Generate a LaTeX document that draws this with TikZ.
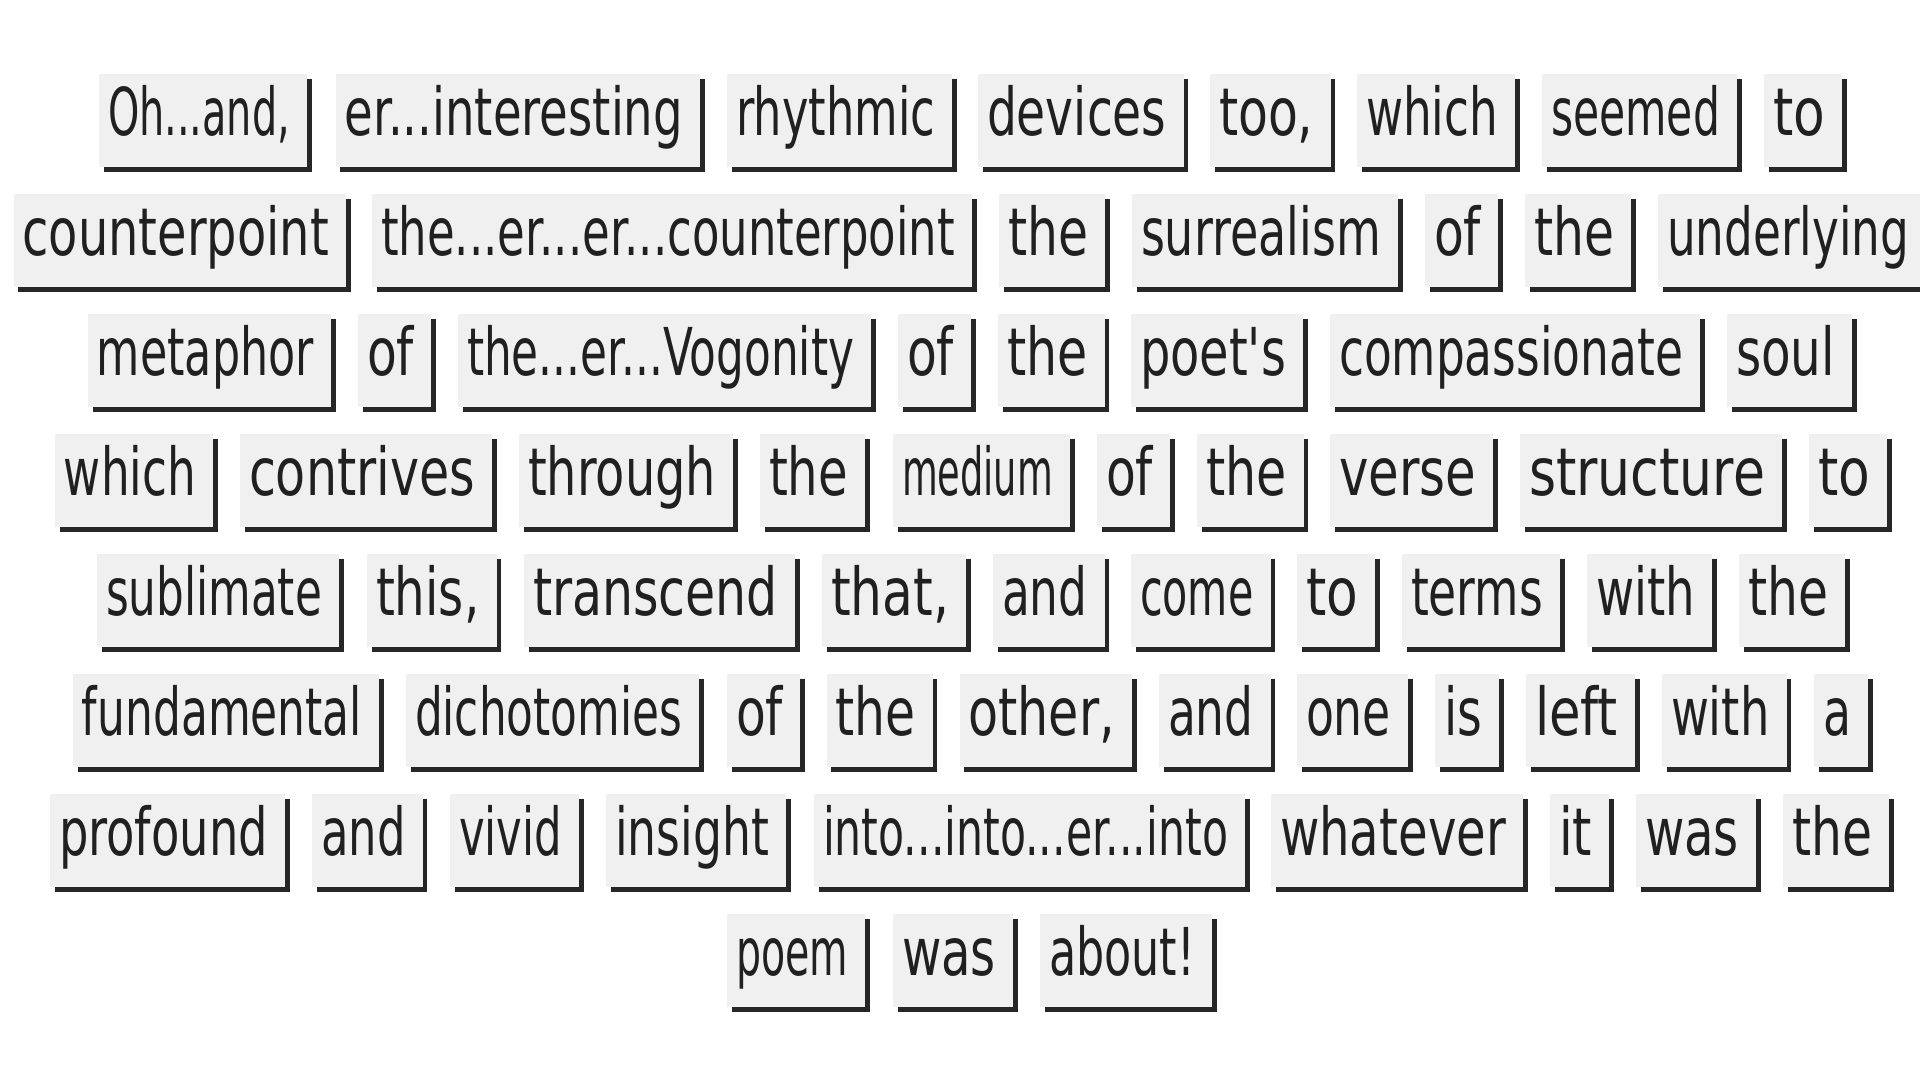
\documentclass[tikz,border=0pt]{standalone}
\usepackage{fontspec}
\setmainfont{DejaVu Sans}
\usepackage{graphicx}
\usetikzlibrary{shadows}
\definecolor{boxfill}{HTML}{F0F0F0}
\definecolor{shadowc}{HTML}{262626}
\definecolor{inkc}{HTML}{202020}
\tikzset{
  wordbox/.style={
    fill=boxfill, draw=none, inner sep=0pt, outer sep=0pt,
    text height=61pt, text depth=32pt, text=inkc,
    font=\fontsize{66}{70}\selectfont,
    drop shadow={shadow xshift=4.5pt, shadow yshift=-4.5pt, fill=shadowc, opacity=1}
  }
}
\newcommand\wbox[5]{% name, left, right, top, text
  \pgfmathsetmacro\bw{#3-#2}%
  \pgfmathsetmacro\tw{#3-#2-26}%
  \node[wordbox, minimum width=\bw pt, anchor=north west] (#1) at (#2pt,-#4pt)
    {\hspace*{9pt}\resizebox{\tw pt}{\height}{#5}\hspace*{17pt}};}
\begin{document}
\begin{tikzpicture}
\fill[white] (0,0) rectangle (1920pt,-1080pt);
\useasboundingbox (0,0) rectangle (1920pt,-1080pt);
% row 1
\wbox{a1}{99}{307}{74}{Oh...and,}
\wbox{a2}{335.5}{700}{74}{er...interesting}
\wbox{a3}{727}{952}{74}{rhythmic}
\wbox{a4}{978}{1183.5}{74}{devices}
\wbox{a5}{1210}{1330.5}{74}{too,}
\wbox{a6}{1357}{1515}{74}{which}
\wbox{a7}{1542}{1737}{74}{seemed}
\wbox{a8}{1764}{1842}{74}{to}
% row 2
\wbox{b1}{13.5}{346}{194}{counterpoint}
\wbox{b2}{372}{972}{194}{the...er...er...counterpoint}
\wbox{b3}{999}{1105}{194}{the}
\wbox{b4}{1132}{1398}{194}{surrealism}
\wbox{b5}{1425}{1498}{194}{of}
\wbox{b6}{1525}{1631}{194}{the}
\wbox{b7}{1658}{1926}{194}{underlying}
% row 3
\wbox{c1}{88}{331}{314}{metaphor}
\wbox{c2}{358}{431}{314}{of}
\wbox{c3}{458}{871}{314}{the...er...Vogonity}
\wbox{c4}{898}{971}{314}{of}
\wbox{c5}{998}{1104.5}{314}{the}
\wbox{c6}{1131}{1303}{314}{poet\textquotesingle s}
\wbox{c7}{1330}{1700}{314}{compassionate}
\wbox{c8}{1727}{1852}{314}{soul}
% row 4
\wbox{d1}{55}{213}{434}{which}
\wbox{d2}{240}{492}{434}{contrives}
\wbox{d3}{519}{733}{434}{through}
\wbox{d4}{760}{865}{434}{the}
\wbox{d5}{893}{1070}{434}{medium}
\wbox{d6}{1097}{1170}{434}{of}
\wbox{d7}{1197}{1303.5}{434}{the}
\wbox{d8}{1330}{1493}{434}{verse}
\wbox{d9}{1520}{1782}{434}{structure}
\wbox{d10}{1809}{1887}{434}{to}
% row 5
\wbox{e1}{97}{339}{554}{sublimate}
\wbox{e2}{367}{496.5}{554}{this,}
\wbox{e3}{524}{795}{554}{transcend}
\wbox{e4}{822}{966}{554}{that,}
\wbox{e5}{993}{1104.5}{554}{and}
\wbox{e6}{1131}{1270.5}{554}{come}
\wbox{e7}{1297}{1375}{554}{to}
\wbox{e8}{1402}{1560}{554}{terms}
\wbox{e9}{1587}{1712}{554}{with}
\wbox{e10}{1739}{1845}{554}{the}
% row 6
\wbox{f1}{73}{379}{674}{fundamental}
\wbox{f2}{406}{699}{674}{dichotomies}
\wbox{f3}{727}{800}{674}{of}
\wbox{f4}{826.5}{932.5}{674}{the}
\wbox{f5}{959.5}{1132}{674}{other,}
\wbox{f6}{1159}{1270.5}{674}{and}
\wbox{f7}{1297}{1408}{674}{one}
\wbox{f8}{1435}{1499}{674}{is}
\wbox{f9}{1526}{1635}{674}{left}
\wbox{f10}{1662}{1786.5}{674}{with}
\wbox{f11}{1814}{1868}{674}{a}
% row 7
\wbox{g1}{50}{285}{794}{profound}
\wbox{g2}{312}{422.5}{794}{and}
\wbox{g3}{450}{579}{794}{vivid}
\wbox{g4}{606}{786}{794}{insight}
\wbox{g5}{814}{1245}{794}{into...into...er...into}
\wbox{g6}{1271}{1523}{794}{whatever}
\wbox{g7}{1550}{1609}{794}{it}
\wbox{g8}{1636}{1756}{794}{was}
\wbox{g9}{1783}{1889}{794}{the}
% row 8
\wbox{h1}{727}{865}{914}{poem}
\wbox{h2}{893}{1013}{914}{was}
\wbox{h3}{1040}{1212}{914}{about!}
\end{tikzpicture}
\end{document}
